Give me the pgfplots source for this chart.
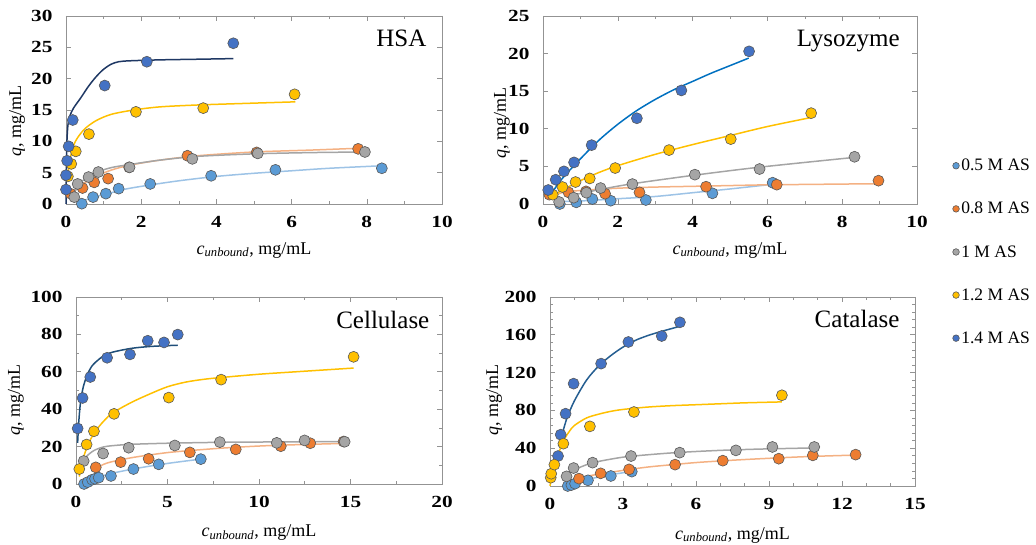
\documentclass[border=0pt]{standalone}
\usepackage{pgfplots}
\pgfplotsset{compat=1.18}
\usepackage{fontspec}
\setmainfont{Liberation Serif}
\newfontfamily\tickfont[FakeStretch=1.25]{Liberation Serif}
\definecolor{c05}{HTML}{5B9BD5}\definecolor{l05}{HTML}{9DC3E6}
\definecolor{c08}{HTML}{ED7D31}\definecolor{l08}{HTML}{F4B183}
\definecolor{c10}{HTML}{A5A5A5}\definecolor{l10}{HTML}{A5A5A5}
\definecolor{c12}{HTML}{FFC000}\definecolor{l12}{HTML}{FFC000}
\definecolor{c14}{HTML}{4472C4}
\definecolor{lhsa}{HTML}{1F3864}\definecolor{llys}{HTML}{0070C0}
\definecolor{lcel}{HTML}{1F4E79}\definecolor{lcat}{HTML}{255E91}
\pgfplotsset{
  pt/.style={only marks, mark=*, mark size=5.5pt, mark options={fill=#1, draw=black!65, line width=0.6pt}},
  fit/.style={no marks, smooth, line width=1.5pt, color=#1, forget plot},
  panel/.style={scale only axis, anchor=south west,
    axis line style={draw=gray!85, line width=0.7pt},
    tick style={draw=gray!85, line width=0.6pt},
    major tick length=5pt, minor tick length=3pt,
    tick align=inside,
    /pgf/number format/assume math mode=true,
    tick label style={font=\tickfont\bfseries\fontsize{17}{17}\selectfont},
    xticklabel style={yshift=-9pt},
    yticklabel style={xshift=-10pt},
    label style={font=\fontsize{18}{18}\selectfont},
    xlabel={\textit{c}\textsubscript{\textit{unbound}}, mg/mL},
    ylabel={\textit{q}, mg/mL},
    ymin=0, xmin=0, clip=false},
}
\begin{document}
\begin{tikzpicture}
\useasboundingbox (0,0) rectangle (1036pt,545pt);
% ---------------- HSA
\begin{axis}[panel, at={(66pt,341pt)}, width=376pt, height=188pt,
  xmax=10, ymax=30, xtick={0,2,...,10}, ytick={0,5,...,30},
  minor x tick num=1,
  xlabel style={at={(rel axis cs:0.5,-0.245)}, anchor=center},
  ylabel style={at={(rel axis cs:-0.13,0.44)}, anchor=center}]
\addplot[fit=l05] coordinates {(0.4,0.4)(0.8,1.2)(1.2,1.8)(1.6,2.4)(2.2,3)(3,3.7)(4,4.4)(5,4.9)(6,5.3)(7,5.7)(8.4,6.1)};
\addplot[fit=l08] coordinates {(0.1,1.5)(0.4,3)(0.8,4.4)(1.2,5.4)(1.7,6.2)(2.5,7)(3.5,7.7)(5,8.3)(6.5,8.6)(7.8,8.9)};
\addplot[fit=l10] coordinates {(0.2,1.5)(0.4,3.5)(0.8,5)(1.2,5.8)(1.7,6.3)(2.5,7)(3.5,7.6)(5,8)(6.5,8.2)(7.95,8.3)};
\addplot[fit=l12] coordinates {(0.05,4.5)(0.1,7)(0.2,9.3)(0.3,10.5)(0.5,12)(0.8,13.3)(1.2,14.3)(1.8,15)(2.5,15.5)(3.5,15.8)(4.5,16)(6.1,16.3)};
\addplot[fit=lhsa] coordinates {(0,0)(0.02,9)(0.05,12.5)(0.1,14)(0.2,15.3)(0.4,17)(0.6,18.8)(0.8,20.3)(1.0,21.5)(1.2,22.3)(1.4,22.7)(1.7,22.85)(2.5,23)(3.5,23.1)(4.45,23.2)};
\addplot[pt=c05] coordinates {(0.42,0.05)(0.72,1.1)(1.06,1.65)(1.4,2.45)(2.24,3.2)(3.86,4.5)(5.57,5.45)(8.4,5.7)};
\addplot[pt=c08] coordinates {(0.12,1.65)(0.44,2.55)(0.75,3.45)(1.12,4.05)(1.68,5.85)(3.23,7.7)(5.07,8.23)(7.77,8.8)};
\addplot[pt=c10] coordinates {(0.22,1.1)(0.31,3.2)(0.6,4.3)(0.86,5.1)(1.69,5.85)(3.36,7.2)(5.1,8.07)(7.95,8.3)};
\addplot[pt=c12] coordinates {(0.05,4.4)(0.14,6.4)(0.26,8.4)(0.61,11.15)(1.86,14.7)(3.65,15.3)(6.08,17.5)};
\addplot[pt=c14] coordinates {(0,2.3)(0,4.6)(0.03,6.9)(0.07,9.2)(0.18,13.4)(1.03,18.9)(2.15,22.7)(4.45,25.65)};
\node[anchor=base east, font=\fontsize{25}{25}\selectfont] at (rel axis cs:0.968,0.84) {HSA};
\end{axis}
% ---------------- Lysozyme
\begin{axis}[panel, at={(543pt,341pt)}, width=374pt, height=188pt,
  xmax=10, ymax=25, xtick={0,2,...,10}, ytick={0,5,...,25},
  minor x tick num=1,
  xlabel style={at={(rel axis cs:0.5,-0.245)}, anchor=center},
  ylabel style={at={(rel axis cs:-0.11,0.43)}, anchor=center},
  legend style={at={(rel axis cs:1.095,-0.255)}, anchor=west, draw=none, fill=none,
    font=\fontsize{17.5}{17.5}\selectfont, row sep=26pt, inner sep=0pt,
    legend cell align=left},
  legend image code/.code={\draw[#1, mark size=3.3pt] plot coordinates {(3pt,0pt)};},
  ]
\addplot[fit=l05] coordinates {(0.3,0.3)(1,0.4)(2,0.7)(3,1.0)(4,1.5)(5,2.0)(6.1,2.6)};
\addplot[fit=l08] coordinates {(0.2,0.8)(0.5,1.5)(1,1.8)(2,2.1)(3,2.25)(4,2.35)(5,2.45)(6,2.55)(7,2.6)(8,2.65)(9,2.7)};
\addplot[fit=l10] coordinates {(0.8,1.2)(1.2,1.6)(1.6,2)(2.4,2.7)(4,3.8)(5.8,4.9)(8.33,6.2)};
\addplot[fit=l12] coordinates {(0.2,0.9)(0.5,1.8)(1,3.1)(1.5,4.2)(2,5.1)(3,6.6)(4,7.9)(5,9.1)(6,10.3)(7.17,11.5)};
\addplot[fit=llys] coordinates {(0.2,1.2)(0.5,3.3)(1,6)(1.5,8.5)(2,10.6)(2.5,12.4)(3,13.9)(3.5,15.2)(4,16.3)(4.5,17.4)(5,18.4)(5.5,19.4)};
\addplot[pt=c05] coordinates {(0.45,0)(0.89,0.22)(1.32,0.66)(1.81,0.44)(2.75,0.53)(4.53,1.42)(6.14,2.83)};
\addlegendentry{0.5 M AS}
\addplot[pt=c08] coordinates {(0.17,1.24)(0.68,1.55)(1.15,1.68)(1.66,1.37)(2.58,1.55)(4.36,2.3)(6.25,2.57)(8.97,3.1)};
\addlegendentry{0.8 M AS}
\addplot[pt=c10] coordinates {(0.43,0.27)(0.82,0.84)(1.16,1.5)(1.54,2.12)(2.39,2.65)(4.06,3.9)(5.79,4.65)(8.33,6.28)};
\addlegendentry{1 M AS}
\addplot[pt=c12] coordinates {(0.26,1.24)(0.52,2.26)(0.87,2.92)(1.25,3.4)(1.93,4.78)(3.37,7.17)(5.02,8.63)(7.17,12.08)};
\addlegendentry{1.2 M AS}
\addplot[pt=c14] coordinates {(0.14,1.86)(0.34,3.23)(0.56,4.34)(0.83,5.53)(1.3,7.83)(2.51,11.4)(3.7,15.1)(5.51,20.3)};
\addlegendentry{1.4 M AS}
\node[anchor=base east, font=\fontsize{25}{25}\selectfont] at (rel axis cs:0.963,0.84) {Lysozyme};
\end{axis}
% ---------------- Cellulase
\begin{axis}[panel, at={(76pt,61pt)}, width=366pt, height=187pt,
  xmax=20, ymax=100, xtick={0,5,...,20}, ytick={0,20,...,100},
  minor x tick num=1, minor y tick num=1,
  xlabel style={at={(rel axis cs:0.5,-0.26)}, anchor=center},
  ylabel style={at={(rel axis cs:-0.164,0.45)}, anchor=center}]
\addplot[fit=l05] coordinates {(0.44,0.5)(1,2.5)(1.5,4.5)(2,5.8)(3,7.8)(4,9.5)(5,11)(6,12.3)(6.82,13.3)};
\addplot[fit=l08] coordinates {(1.08,8)(1.5,10.5)(2,12)(3,14)(4,15.5)(5,16.8)(6,17.7)(8,19.2)(10,20.3)(12,21)(14.62,21.7)};
\addplot[fit=l10] coordinates {(0.3,11)(0.6,15)(1,18)(1.5,19.8)(2,20.5)(3,21.2)(5,21.8)(8,22.3)(11,22.5)(14.68,22.7)};
\addplot[fit=l12] coordinates {(0.18,4)(0.3,10)(0.5,17)(0.8,24)(1.2,30)(1.6,34.5)(2,38)(3,43.5)(4,48)(5,52)(6,54.5)(7,56)(8,57)(10,58.7)(12,60)(15.17,62)};
\addplot[fit=lcel] coordinates {(0.09,22)(0.15,33)(0.25,44)(0.4,52)(0.6,58)(0.8,62)(1.0,64.5)(1.5,68.5)(2,70.5)(3,72.5)(4,73.5)(5,74)(5.56,74.2)};
\addplot[pt=c05] coordinates {(0.44,0)(0.64,1)(0.88,2.3)(1.04,2.8)(1.24,3.4)(1.91,4.3)(3.14,8)(4.52,10.5)(6.82,13.3)};
\addplot[pt=c08] coordinates {(1.08,8.9)(2.44,11.7)(3.97,13.5)(6.22,16.9)(8.73,18.5)(11.19,20.2)(12.8,21.8)(14.62,22.7)};
\addplot[pt=c10] coordinates {(0.42,12.3)(1.48,16.3)(2.88,19.4)(5.4,20.6)(7.86,22.4)(10.97,22)(12.49,23.3)(14.68,22.6)};
\addplot[pt=c12] coordinates {(0.18,8)(0.58,21.1)(0.98,28.2)(2.08,37.5)(5.07,46.2)(7.93,55.8)(15.17,68)};
\addplot[pt=c14] coordinates {(0.09,29.7)(0.36,46)(0.78,57.2)(1.7,67.5)(2.95,69.3)(3.92,76.6)(4.81,75.7)(5.56,79.9)};
\node[anchor=base east, font=\fontsize{25}{25}\selectfont] at (rel axis cs:0.975,0.834) {Cellulase};
\end{axis}
% ---------------- Catalase
\begin{axis}[panel, at={(550pt,59pt)}, width=365pt, height=189pt,
  xmax=15, ymax=200, xtick={0,3,...,15}, ytick={0,40,...,200},
  minor x tick num=2, minor y tick num=4,
  xlabel style={at={(rel axis cs:0.5,-0.26)}, anchor=center},
  ylabel style={at={(rel axis cs:-0.153,0.455)}, anchor=center}]
\addplot[fit=l05] coordinates {(0.73,0.5)(1,3)(1.5,6.5)(2,9.5)(2.5,12)(3,14)(3.36,15.5)};
\addplot[fit=l08] coordinates {(1.19,9)(2,12.5)(3,16.5)(4,20)(5,22.5)(6,24.8)(7,26.5)(8,28)(9,29.3)(10,30.5)(11,31.5)(12.56,32.7)};
\addplot[fit=l10] coordinates {(0.68,11)(1,17)(1.5,22.5)(2,26)(3,30.5)(4,33)(5,35)(6,36.5)(7,37.7)(8,38.6)(9,39.3)(10.86,40.3)};
\addplot[fit=l12] coordinates {(0,0)(0.1,15)(0.2,25)(0.4,38)(0.6,50)(0.8,58)(1,64)(1.5,72)(2,76)(2.5,79)(3,81)(4,83.5)(5,85)(6,86)(7,87)(8,88)(9.53,89)};
\addplot[fit=lcat] coordinates {(0.35,42)(0.5,55)(0.7,72)(1,90)(1.5,112)(2,127)(2.5,138)(3,147)(3.5,154)(4,159)(4.5,163)(5.34,169)};
\addplot[pt=c05] coordinates {(0.73,0)(0.88,1)(1.03,2.5)(1.56,6)(2.5,10.6)(3.36,15.2)};
\addplot[pt=c08] coordinates {(1.19,7.8)(2.08,13.4)(3.25,17.6)(5.14,22.6)(7.1,26.8)(9.4,28.9)(10.8,32.4)(12.56,33.2)};
\addplot[pt=c10] coordinates {(0.68,10.2)(0.97,19)(1.75,24.7)(3.33,31.7)(5.33,35.3)(7.64,37.7)(9.14,41.3)(10.86,41.3)};
\addplot[pt=c14] coordinates {(0.33,31.7)(0.44,54.3)(0.64,76.5)(0.97,108.3)(2.1,129.5)(3.22,152.4)(4.59,158.7)(5.34,173.2)};
\addplot[pt=c12] coordinates {(0.03,8.8)(0.05,13)(0.18,22.6)(0.55,44.8)(1.64,63.1)(3.45,78.3)(9.53,96)};
\node[anchor=base east, font=\fontsize{25}{25}\selectfont] at (rel axis cs:0.967,0.841) {Catalase};
\end{axis}
\end{tikzpicture}
\end{document}
